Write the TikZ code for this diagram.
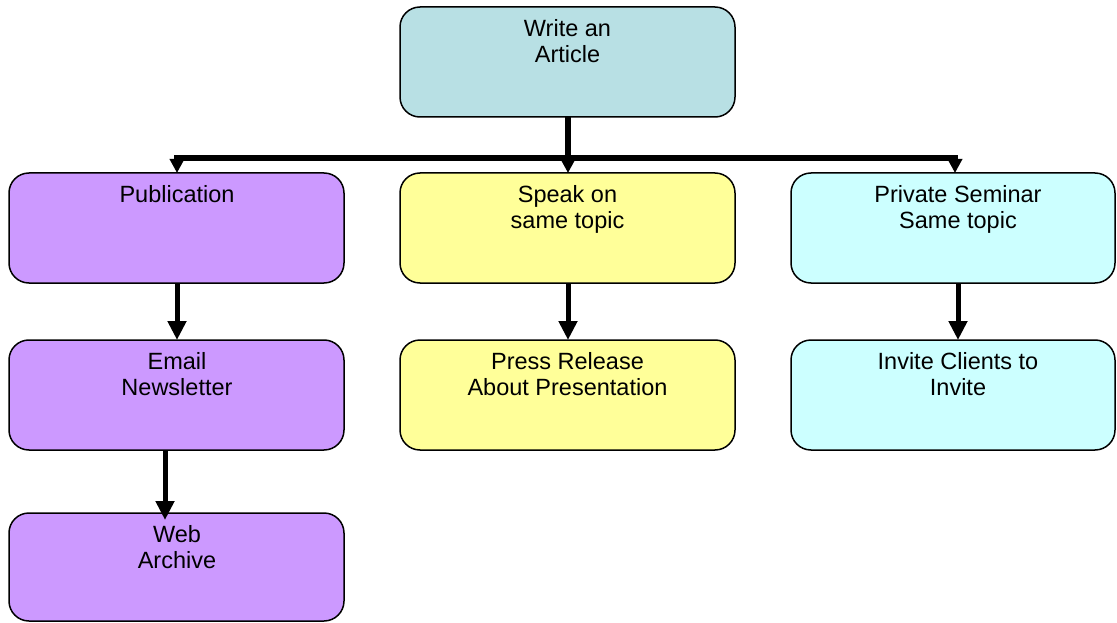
\documentclass[tikz,border=0pt]{standalone}
\usepackage{fontspec}
\setmainfont{Liberation Sans}
\usetikzlibrary{arrows.meta}
\definecolor{tealbox}{RGB}{184,224,228}
\definecolor{purplebox}{RGB}{204,153,255}
\definecolor{yellowbox}{RGB}{255,255,153}
\definecolor{cyanbox}{RGB}{204,255,255}
\tikzset{
  card/.style={draw=black, line width=1.5pt, rounded corners=20pt},
  cardtext/.style={anchor=north, align=center, inner sep=0pt,
    font=\fontsize{23.5}{26}\selectfont},
  link/.style={line width=5pt, draw=black},
  toplink/.style={line width=6pt, draw=black, line join=miter,
    -{Triangle[length=14pt,width=14pt]}},
  downlink/.style={line width=5pt, draw=black,
    -{Triangle[length=19pt,width=18pt]}}
}
\begin{document}
\begin{tikzpicture}[x=1pt,y=-1pt]
\useasboundingbox (0,0) rectangle (1117,623);

% rounded boxes (corner to corner)
\path[card, fill=tealbox]   (400,7)   rectangle (735,117);
\path[card, fill=purplebox] (9,173)   rectangle (344,283);
\path[card, fill=yellowbox] (400,173) rectangle (735,283);
\path[card, fill=cyanbox]   (791,173) rectangle (1115,283);
\path[card, fill=purplebox] (9,340)   rectangle (344,450);
\path[card, fill=yellowbox] (400,340) rectangle (735,450);
\path[card, fill=cyanbox]   (791,340) rectangle (1115,450);
\path[card, fill=purplebox] (9,513)   rectangle (344,621);

% connection points on the box edges
\coordinate (top-s)   at (568,117);
\coordinate (pub-n)   at (177,173);  \coordinate (pub-s)   at (177,283);
\coordinate (speak-n) at (568,173);  \coordinate (speak-s) at (568,283);
\coordinate (sem-n)   at (955,173);  \coordinate (sem-s)   at (958,283);
\coordinate (mail-n)  at (177,340);  \coordinate (mail-s)  at (165,450);
\coordinate (press-n) at (568,340);
\coordinate (inv-n)   at (958,340);
\coordinate (web-n)   at (165,513);
\coordinate (bus)     at (568,158.5);

% labels
\node[cardtext] (t-top)   at (567.5,19)  {Write an\\Article};
\node[cardtext] (t-pub)   at (177,185)   {Publication};
\node[cardtext] (t-speak) at (567.5,185) {Speak on\\same topic};
\node[cardtext] (t-sem)   at (958,185)   {Private Seminar\\Same topic};
\node[cardtext] (t-mail)  at (177,352)   {Email\\Newsletter};
\node[cardtext] (t-press) at (567.5,352) {Press Release\\About Presentation};
\node[cardtext] (t-inv)   at (958,352)   {Invite Clients to\\Invite};
\node[cardtext] (t-web)   at (177,525)   {Web\\Archive};

% branching connectors from the article
\draw[toplink] (top-s) -- (speak-n);
\draw[toplink] (bus) -- (pub-n |- bus) -- (pub-n);
\draw[toplink] (bus) -- (sem-n |- bus) -- (sem-n);

% downward connectors
\draw[downlink] (pub-s)   -- (mail-n);
\draw[downlink] (speak-s) -- (press-n);
\draw[downlink] (sem-s)   -- (inv-n);
\draw[link] (mail-s) -- (web-n);
\draw[downlink] (mail-s) -- ([yshift=-7pt]web-n);
\end{tikzpicture}
\end{document}
